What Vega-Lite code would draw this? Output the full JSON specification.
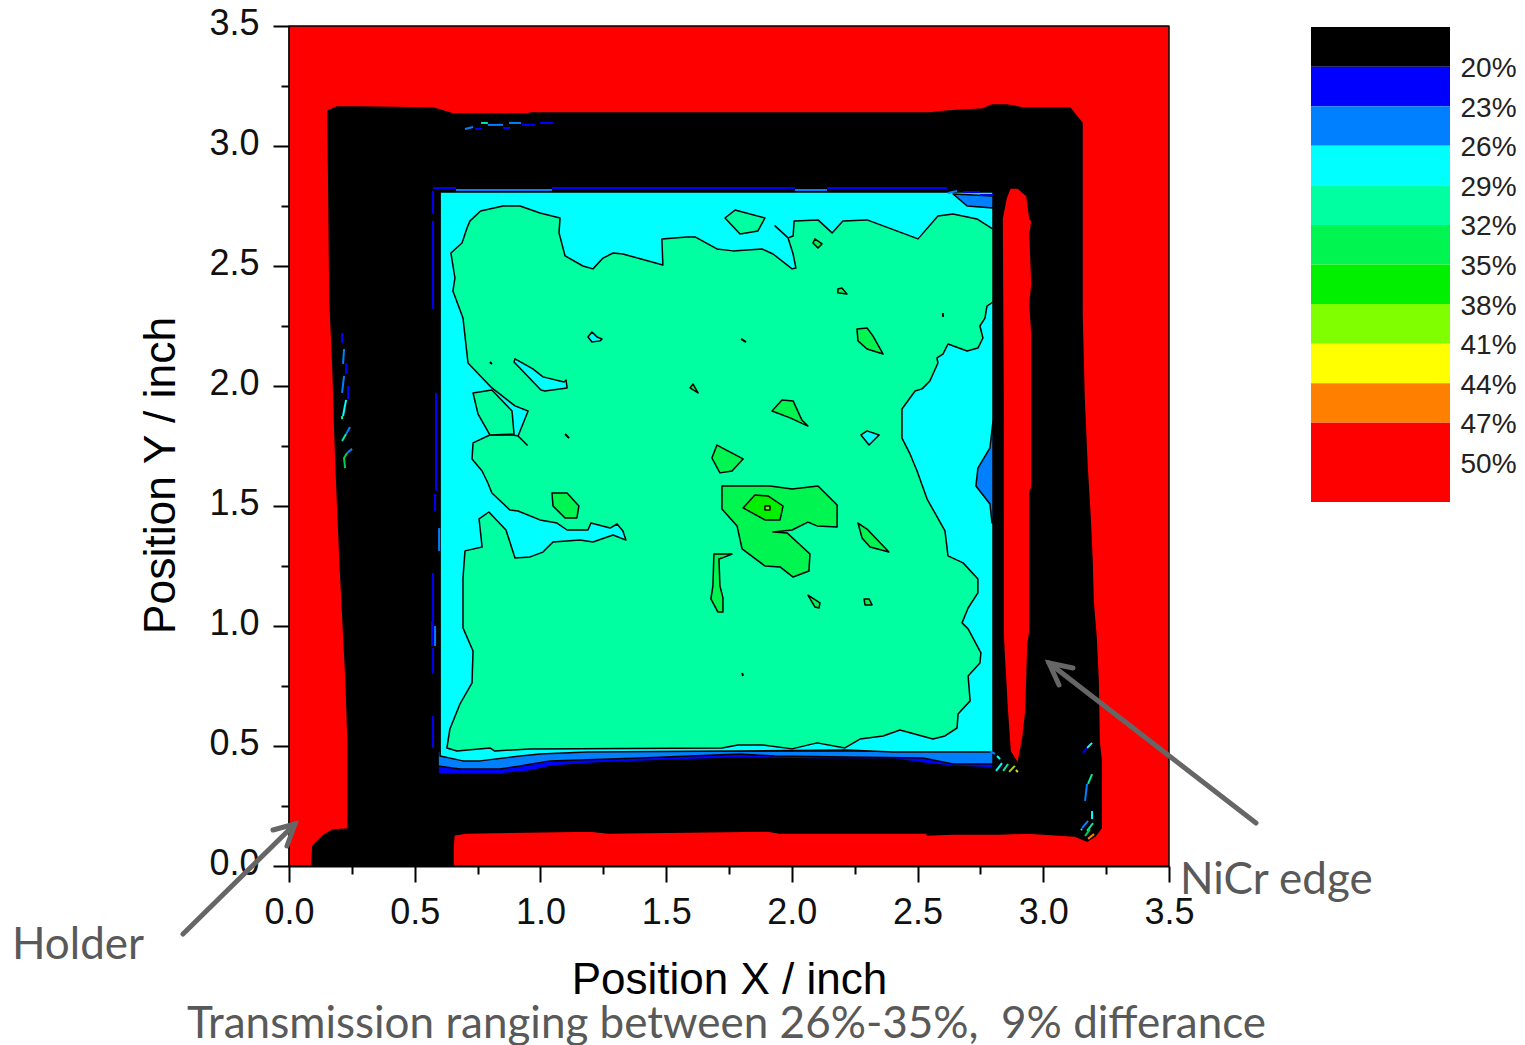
{"$schema":"https://vega.github.io/schema/vega-lite/v6.json","padding":{"left":11,"top":5,"right":0,"bottom":0},"bounds":"flush","spacing":142,"config":{"view":{"stroke":null},"font":"Liberation Sans"},
"datasets":{
"polys":[
{"id":"bg","level":47,"x":0,"y":0},{"id":"bg","level":47,"x":3.5,"y":0},{"id":"bg","level":47,"x":3.5,"y":3.5},{"id":"bg","level":47,"x":0,"y":3.5},
{"id":"frame","level":17,"x":0.155,"y":3.146},{"id":"frame","level":17,"x":0.191,"y":3.163},{"id":"frame","level":17,"x":0.274,"y":3.163},{"id":"frame","level":17,"x":0.573,"y":3.158},{"id":"frame","level":17,"x":0.652,"y":3.133},{"id":"frame","level":17,"x":0.951,"y":3.133},{"id":"frame","level":17,"x":0.959,"y":3.138},{"id":"frame","level":17,"x":2.549,"y":3.138},{"id":"frame","level":17,"x":2.621,"y":3.146},{"id":"frame","level":17,"x":2.76,"y":3.154},{"id":"frame","level":17,"x":2.796,"y":3.171},{"id":"frame","level":17,"x":2.856,"y":3.171},{"id":"frame","level":17,"x":2.919,"y":3.158},{"id":"frame","level":17,"x":3.106,"y":3.158},{"id":"frame","level":17,"x":3.154,"y":3.096},{"id":"frame","level":17,"x":3.154,"y":2.296},{"id":"frame","level":17,"x":3.162,"y":1.954},{"id":"frame","level":17,"x":3.174,"y":1.663},{"id":"frame","level":17,"x":3.186,"y":1.454},{"id":"frame","level":17,"x":3.194,"y":1.267},{"id":"frame","level":17,"x":3.198,"y":1.104},{"id":"frame","level":17,"x":3.21,"y":0.95},{"id":"frame","level":17,"x":3.218,"y":0.771},{"id":"frame","level":17,"x":3.222,"y":0.517},{"id":"frame","level":17,"x":3.23,"y":0.442},{"id":"frame","level":17,"x":3.23,"y":0.158},{"id":"frame","level":17,"x":3.206,"y":0.125},{"id":"frame","level":17,"x":3.174,"y":0.104},{"id":"frame","level":17,"x":3.126,"y":0.125},{"id":"frame","level":17,"x":2.999,"y":0.133},{"id":"frame","level":17,"x":2.939,"y":0.138},{"id":"frame","level":17,"x":2.828,"y":0.133},{"id":"frame","level":17,"x":2.637,"y":0.133},{"id":"frame","level":17,"x":2.538,"y":0.129},{"id":"frame","level":17,"x":2.538,"y":0.138},{"id":"frame","level":17,"x":1.945,"y":0.138},{"id":"frame","level":17,"x":1.905,"y":0.146},{"id":"frame","level":17,"x":1.269,"y":0.138},{"id":"frame","level":17,"x":1.197,"y":0.146},{"id":"frame","level":17,"x":0.708,"y":0.138},{"id":"frame","level":17,"x":0.656,"y":0.129},{"id":"frame","level":17,"x":0.652,"y":0.071},{"id":"frame","level":17,"x":0.652,"y":0},{"id":"frame","level":17,"x":0.091,"y":0},{"id":"frame","level":17,"x":0.095,"y":0.083},{"id":"frame","level":17,"x":0.135,"y":0.125},{"id":"frame","level":17,"x":0.175,"y":0.15},{"id":"frame","level":17,"x":0.235,"y":0.154},{"id":"frame","level":17,"x":0.235,"y":0.521},{"id":"frame","level":17,"x":0.227,"y":0.771},{"id":"frame","level":17,"x":0.215,"y":1.021},{"id":"frame","level":17,"x":0.203,"y":1.271},{"id":"frame","level":17,"x":0.191,"y":1.571},{"id":"frame","level":17,"x":0.183,"y":1.792},{"id":"frame","level":17,"x":0.175,"y":2.075},{"id":"frame","level":17,"x":0.163,"y":2.354},{"id":"frame","level":17,"x":0.159,"y":2.771},
{"id":"blue","level":20,"x":0.593,"y":0.479},{"id":"blue","level":20,"x":2.8,"y":0.479},{"id":"blue","level":20,"x":2.8,"y":0.408},{"id":"blue","level":20,"x":2.629,"y":0.417},{"id":"blue","level":20,"x":2.549,"y":0.425},{"id":"blue","level":20,"x":2.402,"y":0.446},{"id":"blue","level":20,"x":2.072,"y":0.446},{"id":"blue","level":20,"x":1.794,"y":0.45},{"id":"blue","level":20,"x":1.555,"y":0.442},{"id":"blue","level":20,"x":1.225,"y":0.429},{"id":"blue","level":20,"x":1.05,"y":0.417},{"id":"blue","level":20,"x":0.959,"y":0.396},{"id":"blue","level":20,"x":0.839,"y":0.383},{"id":"blue","level":20,"x":0.593,"y":0.383},
{"id":"azure","level":23,"x":0.593,"y":0.479},{"id":"azure","level":23,"x":2.8,"y":0.479},{"id":"azure","level":23,"x":2.8,"y":0.425},{"id":"azure","level":23,"x":2.641,"y":0.425},{"id":"azure","level":23,"x":2.522,"y":0.45},{"id":"azure","level":23,"x":1.933,"y":0.458},{"id":"azure","level":23,"x":1.794,"y":0.467},{"id":"azure","level":23,"x":1.396,"y":0.45},{"id":"azure","level":23,"x":1.038,"y":0.438},{"id":"azure","level":23,"x":0.919,"y":0.417},{"id":"azure","level":23,"x":0.839,"y":0.404},{"id":"azure","level":23,"x":0.68,"y":0.404},{"id":"azure","level":23,"x":0.593,"y":0.417},
{"id":"cyan","level":26,"x":0.601,"y":2.808},{"id":"cyan","level":26,"x":2.8,"y":2.808},{"id":"cyan","level":26,"x":2.8,"y":0.475},{"id":"cyan","level":26,"x":2.402,"y":0.475},{"id":"cyan","level":26,"x":2.219,"y":0.483},{"id":"cyan","level":26,"x":1.794,"y":0.479},{"id":"cyan","level":26,"x":1.185,"y":0.475},{"id":"cyan","level":26,"x":0.998,"y":0.467},{"id":"cyan","level":26,"x":0.919,"y":0.458},{"id":"cyan","level":26,"x":0.76,"y":0.438},{"id":"cyan","level":26,"x":0.692,"y":0.438},{"id":"cyan","level":26,"x":0.601,"y":0.458},
{"id":"az2","level":23,"x":2.641,"y":2.8},{"id":"az2","level":23,"x":2.8,"y":2.792},{"id":"az2","level":23,"x":2.8,"y":2.742},{"id":"az2","level":23,"x":2.697,"y":2.75},
{"id":"az3","level":23,"x":2.8,"y":1.854},{"id":"az3","level":23,"x":2.788,"y":1.742},{"id":"az3","level":23,"x":2.74,"y":1.658},{"id":"az3","level":23,"x":2.732,"y":1.583},{"id":"az3","level":23,"x":2.788,"y":1.508},{"id":"az3","level":23,"x":2.796,"y":1.429},{"id":"az3","level":23,"x":2.8,"y":1.429},
{"id":"main","level":29,"x":0.762,"y":2.729},{"id":"main","level":29,"x":0.851,"y":2.75},{"id":"main","level":29,"x":0.919,"y":2.75},{"id":"main","level":29,"x":0.998,"y":2.721},{"id":"main","level":29,"x":1.078,"y":2.7},{"id":"main","level":29,"x":1.074,"y":2.638},{"id":"main","level":29,"x":1.098,"y":2.542},{"id":"main","level":29,"x":1.169,"y":2.5},{"id":"main","level":29,"x":1.209,"y":2.488},{"id":"main","level":29,"x":1.249,"y":2.533},{"id":"main","level":29,"x":1.289,"y":2.554},{"id":"main","level":29,"x":1.328,"y":2.55},{"id":"main","level":29,"x":1.487,"y":2.504},{"id":"main","level":29,"x":1.483,"y":2.613},{"id":"main","level":29,"x":1.583,"y":2.621},{"id":"main","level":29,"x":1.615,"y":2.621},{"id":"main","level":29,"x":1.702,"y":2.571},{"id":"main","level":29,"x":1.766,"y":2.563},{"id":"main","level":29,"x":1.881,"y":2.571},{"id":"main","level":29,"x":1.925,"y":2.55},{"id":"main","level":29,"x":2.001,"y":2.488},{"id":"main","level":29,"x":2.016,"y":2.492},{"id":"main","level":29,"x":2.005,"y":2.55},{"id":"main","level":29,"x":1.985,"y":2.617},{"id":"main","level":29,"x":1.933,"y":2.667},{"id":"main","level":29,"x":1.985,"y":2.617},{"id":"main","level":29,"x":2.005,"y":2.625},{"id":"main","level":29,"x":2.009,"y":2.688},{"id":"main","level":29,"x":2.104,"y":2.692},{"id":"main","level":29,"x":2.16,"y":2.638},{"id":"main","level":29,"x":2.203,"y":2.688},{"id":"main","level":29,"x":2.299,"y":2.692},{"id":"main","level":29,"x":2.502,"y":2.613},{"id":"main","level":29,"x":2.581,"y":2.708},{"id":"main","level":29,"x":2.641,"y":2.717},{"id":"main","level":29,"x":2.736,"y":2.696},{"id":"main","level":29,"x":2.8,"y":2.654},{"id":"main","level":29,"x":2.8,"y":2.35},{"id":"main","level":29,"x":2.776,"y":2.333},{"id":"main","level":29,"x":2.768,"y":2.283},{"id":"main","level":29,"x":2.748,"y":2.25},{"id":"main","level":29,"x":2.76,"y":2.2},{"id":"main","level":29,"x":2.74,"y":2.158},{"id":"main","level":29,"x":2.697,"y":2.146},{"id":"main","level":29,"x":2.621,"y":2.175},{"id":"main","level":29,"x":2.601,"y":2.133},{"id":"main","level":29,"x":2.577,"y":2.117},{"id":"main","level":29,"x":2.581,"y":2.096},{"id":"main","level":29,"x":2.549,"y":2.021},{"id":"main","level":29,"x":2.518,"y":1.988},{"id":"main","level":29,"x":2.49,"y":1.979},{"id":"main","level":29,"x":2.438,"y":1.904},{"id":"main","level":29,"x":2.438,"y":1.783},{"id":"main","level":29,"x":2.47,"y":1.717},{"id":"main","level":29,"x":2.498,"y":1.646},{"id":"main","level":29,"x":2.538,"y":1.529},{"id":"main","level":29,"x":2.609,"y":1.396},{"id":"main","level":29,"x":2.621,"y":1.292},{"id":"main","level":29,"x":2.681,"y":1.263},{"id":"main","level":29,"x":2.74,"y":1.196},{"id":"main","level":29,"x":2.74,"y":1.138},{"id":"main","level":29,"x":2.701,"y":1.075},{"id":"main","level":29,"x":2.677,"y":1.013},{"id":"main","level":29,"x":2.701,"y":0.988},{"id":"main","level":29,"x":2.752,"y":0.888},{"id":"main","level":29,"x":2.748,"y":0.846},{"id":"main","level":29,"x":2.701,"y":0.792},{"id":"main","level":29,"x":2.709,"y":0.688},{"id":"main","level":29,"x":2.661,"y":0.633},{"id":"main","level":29,"x":2.657,"y":0.575},{"id":"main","level":29,"x":2.609,"y":0.542},{"id":"main","level":29,"x":2.561,"y":0.529},{"id":"main","level":29,"x":2.43,"y":0.567},{"id":"main","level":29,"x":2.363,"y":0.542},{"id":"main","level":29,"x":2.271,"y":0.529},{"id":"main","level":29,"x":2.211,"y":0.492},{"id":"main","level":29,"x":2.1,"y":0.513},{"id":"main","level":29,"x":2.001,"y":0.488},{"id":"main","level":29,"x":1.885,"y":0.504},{"id":"main","level":29,"x":1.786,"y":0.504},{"id":"main","level":29,"x":1.722,"y":0.492},{"id":"main","level":29,"x":0.959,"y":0.488},{"id":"main","level":29,"x":0.819,"y":0.479},{"id":"main","level":29,"x":0.799,"y":0.492},{"id":"main","level":29,"x":0.668,"y":0.479},{"id":"main","level":29,"x":0.628,"y":0.492},{"id":"main","level":29,"x":0.64,"y":0.571},{"id":"main","level":29,"x":0.68,"y":0.675},{"id":"main","level":29,"x":0.728,"y":0.763},{"id":"main","level":29,"x":0.732,"y":0.896},{"id":"main","level":29,"x":0.692,"y":0.992},{"id":"main","level":29,"x":0.692,"y":1.2},{"id":"main","level":29,"x":0.7,"y":1.313},{"id":"main","level":29,"x":0.768,"y":1.329},{"id":"main","level":29,"x":0.756,"y":1.446},{"id":"main","level":29,"x":0.795,"y":1.475},{"id":"main","level":29,"x":0.863,"y":1.4},{"id":"main","level":29,"x":0.899,"y":1.283},{"id":"main","level":29,"x":0.959,"y":1.288},{"id":"main","level":29,"x":1.01,"y":1.308},{"id":"main","level":29,"x":1.05,"y":1.35},{"id":"main","level":29,"x":1.157,"y":1.358},{"id":"main","level":29,"x":1.209,"y":1.35},{"id":"main","level":29,"x":1.289,"y":1.379},{"id":"main","level":29,"x":1.34,"y":1.358},{"id":"main","level":29,"x":1.328,"y":1.396},{"id":"main","level":29,"x":1.305,"y":1.425},{"id":"main","level":29,"x":1.277,"y":1.408},{"id":"main","level":29,"x":1.201,"y":1.429},{"id":"main","level":29,"x":1.189,"y":1.4},{"id":"main","level":29,"x":1.106,"y":1.4},{"id":"main","level":29,"x":1.066,"y":1.429},{"id":"main","level":29,"x":0.998,"y":1.442},{"id":"main","level":29,"x":0.911,"y":1.479},{"id":"main","level":29,"x":0.879,"y":1.483},{"id":"main","level":29,"x":0.807,"y":1.554},{"id":"main","level":29,"x":0.791,"y":1.596},{"id":"main","level":29,"x":0.768,"y":1.646},{"id":"main","level":29,"x":0.728,"y":1.696},{"id":"main","level":29,"x":0.732,"y":1.763},{"id":"main","level":29,"x":0.799,"y":1.796},{"id":"main","level":29,"x":0.891,"y":1.796},{"id":"main","level":29,"x":0.911,"y":1.792},{"id":"main","level":29,"x":0.947,"y":1.754},{"id":"main","level":29,"x":0.911,"y":1.792},{"id":"main","level":29,"x":0.951,"y":1.896},{"id":"main","level":29,"x":0.899,"y":1.917},{"id":"main","level":29,"x":0.807,"y":1.992},{"id":"main","level":29,"x":0.712,"y":2.096},{"id":"main","level":29,"x":0.692,"y":2.283},{"id":"main","level":29,"x":0.652,"y":2.396},{"id":"main","level":29,"x":0.66,"y":2.45},{"id":"main","level":29,"x":0.644,"y":2.554},{"id":"main","level":29,"x":0.688,"y":2.596},{"id":"main","level":29,"x":0.708,"y":2.658},{"id":"main","level":29,"x":0.72,"y":2.688},
{"id":"mintA","level":29,"x":0.732,"y":1.971},{"id":"mintA","level":29,"x":0.807,"y":1.983},{"id":"mintA","level":29,"x":0.887,"y":1.896},{"id":"mintA","level":29,"x":0.895,"y":1.8},{"id":"mintA","level":29,"x":0.799,"y":1.796},{"id":"mintA","level":29,"x":0.752,"y":1.883},
{"id":"mintB","level":29,"x":1.734,"y":2.7},{"id":"mintB","level":29,"x":1.774,"y":2.733},{"id":"mintB","level":29,"x":1.893,"y":2.7},{"id":"mintB","level":29,"x":1.865,"y":2.646},{"id":"mintB","level":29,"x":1.794,"y":2.633},
{"id":"c1","level":26,"x":0.899,"y":2.113},{"id":"c1","level":26,"x":0.97,"y":2.071},{"id":"c1","level":26,"x":1.01,"y":2.038},{"id":"c1","level":26,"x":1.094,"y":2.017},{"id":"c1","level":26,"x":1.102,"y":2.025},{"id":"c1","level":26,"x":1.106,"y":1.992},{"id":"c1","level":26,"x":1.018,"y":1.979},{"id":"c1","level":26,"x":1.002,"y":1.983},{"id":"c1","level":26,"x":0.895,"y":2.1},
{"id":"c2","level":26,"x":1.205,"y":2.225},{"id":"c2","level":26,"x":1.225,"y":2.204},{"id":"c2","level":26,"x":1.245,"y":2.196},{"id":"c2","level":26,"x":1.237,"y":2.188},{"id":"c2","level":26,"x":1.205,"y":2.183},{"id":"c2","level":26,"x":1.189,"y":2.204},
{"id":"c3","level":26,"x":2.275,"y":1.796},{"id":"c3","level":26,"x":2.299,"y":1.813},{"id":"c3","level":26,"x":2.347,"y":1.796},{"id":"c3","level":26,"x":2.307,"y":1.754},
{"id":"i1","level":32,"x":1.702,"y":1.754},{"id":"i1","level":32,"x":1.806,"y":1.696},{"id":"i1","level":32,"x":1.762,"y":1.646},{"id":"i1","level":32,"x":1.714,"y":1.638},{"id":"i1","level":32,"x":1.682,"y":1.7},
{"id":"i3","level":32,"x":2.092,"y":2.613},{"id":"i3","level":32,"x":2.12,"y":2.592},{"id":"i3","level":32,"x":2.104,"y":2.575},{"id":"i3","level":32,"x":2.084,"y":2.596},
{"id":"i4","level":32,"x":2.183,"y":2.404},{"id":"i4","level":32,"x":2.199,"y":2.408},{"id":"i4","level":32,"x":2.219,"y":2.383},{"id":"i4","level":32,"x":2.183,"y":2.388},
{"id":"i5","level":32,"x":2.259,"y":2.238},{"id":"i5","level":32,"x":2.299,"y":2.242},{"id":"i5","level":32,"x":2.323,"y":2.208},{"id":"i5","level":32,"x":2.363,"y":2.133},{"id":"i5","level":32,"x":2.299,"y":2.154},{"id":"i5","level":32,"x":2.263,"y":2.188},
{"id":"i6","level":32,"x":1.921,"y":1.896},{"id":"i6","level":32,"x":1.961,"y":1.942},{"id":"i6","level":32,"x":2.005,"y":1.938},{"id":"i6","level":32,"x":2.04,"y":1.858},{"id":"i6","level":32,"x":2.064,"y":1.833},{"id":"i6","level":32,"x":1.993,"y":1.867},
{"id":"i7","level":32,"x":1.595,"y":1.992},{"id":"i7","level":32,"x":1.607,"y":2.008},{"id":"i7","level":32,"x":1.627,"y":1.971},
{"id":"i8","level":32,"x":1.046,"y":1.554},{"id":"i8","level":32,"x":1.106,"y":1.554},{"id":"i8","level":32,"x":1.153,"y":1.5},{"id":"i8","level":32,"x":1.145,"y":1.45},{"id":"i8","level":32,"x":1.098,"y":1.45},{"id":"i8","level":32,"x":1.05,"y":1.5},
{"id":"i9","level":32,"x":1.722,"y":1.583},{"id":"i9","level":32,"x":1.913,"y":1.583},{"id":"i9","level":32,"x":2.001,"y":1.571},{"id":"i9","level":32,"x":2.104,"y":1.583},{"id":"i9","level":32,"x":2.18,"y":1.504},{"id":"i9","level":32,"x":2.18,"y":1.413},{"id":"i9","level":32,"x":2.1,"y":1.417},{"id":"i9","level":32,"x":2.064,"y":1.433},{"id":"i9","level":32,"x":2.001,"y":1.4},{"id":"i9","level":32,"x":1.925,"y":1.392},{"id":"i9","level":32,"x":1.981,"y":1.388},{"id":"i9","level":32,"x":2.072,"y":1.3},{"id":"i9","level":32,"x":2.068,"y":1.229},{"id":"i9","level":32,"x":2.005,"y":1.204},{"id":"i9","level":32,"x":1.953,"y":1.246},{"id":"i9","level":32,"x":1.893,"y":1.25},{"id":"i9","level":32,"x":1.802,"y":1.321},{"id":"i9","level":32,"x":1.782,"y":1.417},{"id":"i9","level":32,"x":1.722,"y":1.488},
{"id":"i10","level":35,"x":1.853,"y":1.546},{"id":"i10","level":35,"x":1.905,"y":1.542},{"id":"i10","level":35,"x":1.965,"y":1.5},{"id":"i10","level":35,"x":1.953,"y":1.442},{"id":"i10","level":35,"x":1.893,"y":1.442},{"id":"i10","level":35,"x":1.806,"y":1.492},
{"id":"i10b","level":38,"x":1.893,"y":1.5},{"id":"i10b","level":38,"x":1.913,"y":1.5},{"id":"i10b","level":38,"x":1.913,"y":1.483},{"id":"i10b","level":38,"x":1.893,"y":1.483},
{"id":"i11","level":32,"x":1.69,"y":1.3},{"id":"i11","level":32,"x":1.762,"y":1.3},{"id":"i11","level":32,"x":1.722,"y":1.283},{"id":"i11","level":32,"x":1.71,"y":1.279},{"id":"i11","level":32,"x":1.714,"y":1.167},{"id":"i11","level":32,"x":1.726,"y":1.117},{"id":"i11","level":32,"x":1.726,"y":1.058},{"id":"i11","level":32,"x":1.706,"y":1.058},{"id":"i11","level":32,"x":1.678,"y":1.113},{"id":"i11","level":32,"x":1.686,"y":1.167},
{"id":"i12","level":32,"x":2.263,"y":1.429},{"id":"i12","level":32,"x":2.299,"y":1.404},{"id":"i12","level":32,"x":2.386,"y":1.308},{"id":"i12","level":32,"x":2.311,"y":1.329},{"id":"i12","level":32,"x":2.279,"y":1.367},
{"id":"i13","level":32,"x":2.064,"y":1.129},{"id":"i13","level":32,"x":2.112,"y":1.096},{"id":"i13","level":32,"x":2.108,"y":1.075},{"id":"i13","level":32,"x":2.092,"y":1.079},
{"id":"i14","level":32,"x":2.287,"y":1.113},{"id":"i14","level":32,"x":2.307,"y":1.113},{"id":"i14","level":32,"x":2.319,"y":1.088},{"id":"i14","level":32,"x":2.291,"y":1.088},
{"id":"nicr","level":47,"x":2.868,"y":2.825},{"id":"nicr","level":47,"x":2.899,"y":2.825},{"id":"nicr","level":47,"x":2.935,"y":2.792},{"id":"nicr","level":47,"x":2.947,"y":2.696},{"id":"nicr","level":47,"x":2.955,"y":2.688},{"id":"nicr","level":47,"x":2.947,"y":2.633},{"id":"nicr","level":47,"x":2.955,"y":2.425},{"id":"nicr","level":47,"x":2.947,"y":2.342},{"id":"nicr","level":47,"x":2.955,"y":2.217},{"id":"nicr","level":47,"x":2.955,"y":1.575},{"id":"nicr","level":47,"x":2.947,"y":1.563},{"id":"nicr","level":47,"x":2.947,"y":0.979},{"id":"nicr","level":47,"x":2.939,"y":0.925},{"id":"nicr","level":47,"x":2.931,"y":0.646},{"id":"nicr","level":47,"x":2.919,"y":0.533},{"id":"nicr","level":47,"x":2.899,"y":0.425},{"id":"nicr","level":47,"x":2.868,"y":0.479},{"id":"nicr","level":47,"x":2.856,"y":0.658},{"id":"nicr","level":47,"x":2.84,"y":0.967},{"id":"nicr","level":47,"x":2.84,"y":1.938},{"id":"nicr","level":47,"x":2.836,"y":2.696},{"id":"nicr","level":47,"x":2.852,"y":2.783}
],
"dashes":[
{"id":"d1","level":20,"x":0.573,"y":2.825},{"id":"d1","level":20,"x":0.664,"y":2.825},
{"id":"d2","level":23,"x":0.664,"y":2.817},{"id":"d2","level":23,"x":1.046,"y":2.817},
{"id":"d3","level":20,"x":1.046,"y":2.825},{"id":"d3","level":20,"x":2.012,"y":2.825},
{"id":"d4","level":23,"x":2.012,"y":2.817},{"id":"d4","level":23,"x":2.14,"y":2.817},
{"id":"d5","level":20,"x":2.14,"y":2.825},{"id":"d5","level":20,"x":2.617,"y":2.825},
{"id":"d6","level":23,"x":2.621,"y":2.804},{"id":"d6","level":23,"x":2.657,"y":2.813},
{"id":"d7","level":20,"x":2.681,"y":2.808},{"id":"d7","level":20,"x":2.748,"y":2.808},
{"id":"d8","level":20,"x":2.748,"y":2.796},{"id":"d8","level":20,"x":2.8,"y":2.796},
{"id":"d9","level":20,"x":0.573,"y":2.813},{"id":"d9","level":20,"x":0.573,"y":2.717},
{"id":"d10","level":20,"x":0.573,"y":2.688},{"id":"d10","level":20,"x":0.573,"y":2.321},
{"id":"d11","level":20,"x":0.585,"y":1.971},{"id":"d11","level":20,"x":0.585,"y":1.563},
{"id":"d12","level":20,"x":0.581,"y":1.55},{"id":"d12","level":20,"x":0.581,"y":1.479},
{"id":"d13","level":23,"x":0.597,"y":1.408},{"id":"d13","level":23,"x":0.597,"y":1.313},
{"id":"d14","level":20,"x":0.573,"y":1.221},{"id":"d14","level":20,"x":0.573,"y":1.021},
{"id":"d15","level":20,"x":0.569,"y":1.021},{"id":"d15","level":20,"x":0.569,"y":0.917},
{"id":"d16","level":23,"x":0.581,"y":1.0},{"id":"d16","level":23,"x":0.581,"y":0.917},
{"id":"d17","level":20,"x":0.573,"y":0.908},{"id":"d17","level":20,"x":0.573,"y":0.804},
{"id":"d18","level":20,"x":0.573,"y":0.625},{"id":"d18","level":20,"x":0.573,"y":0.492},
{"id":"t1","level":23,"x":0.7,"y":3.071},{"id":"t1","level":23,"x":0.732,"y":3.079},
{"id":"t2","level":20,"x":0.74,"y":3.071},{"id":"t2","level":20,"x":0.768,"y":3.071},
{"id":"t3","level":29,"x":0.764,"y":3.096},{"id":"t3","level":29,"x":0.791,"y":3.096},
{"id":"t4","level":23,"x":0.791,"y":3.088},{"id":"t4","level":23,"x":0.851,"y":3.088},
{"id":"t5","level":20,"x":0.851,"y":3.075},{"id":"t5","level":20,"x":0.879,"y":3.075},
{"id":"t6","level":23,"x":0.875,"y":3.096},{"id":"t6","level":23,"x":0.923,"y":3.096},
{"id":"t7","level":20,"x":0.927,"y":3.088},{"id":"t7","level":20,"x":0.978,"y":3.088},
{"id":"t8","level":20,"x":0.998,"y":3.096},{"id":"t8","level":20,"x":1.05,"y":3.096},
{"id":"l1","level":20,"x":0.211,"y":2.221},{"id":"l1","level":20,"x":0.211,"y":2.179},
{"id":"l2","level":23,"x":0.219,"y":2.154},{"id":"l2","level":23,"x":0.215,"y":2.092},
{"id":"l3","level":20,"x":0.227,"y":2.096},{"id":"l3","level":20,"x":0.227,"y":2.05},
{"id":"l4","level":23,"x":0.219,"y":2.042},{"id":"l4","level":23,"x":0.211,"y":1.971},
{"id":"l5","level":20,"x":0.235,"y":2.0},{"id":"l5","level":20,"x":0.235,"y":1.946},
{"id":"l6","level":26,"x":0.227,"y":1.942},{"id":"l6","level":26,"x":0.215,"y":1.875},
{"id":"l7","level":29,"x":0.211,"y":1.875},{"id":"l7","level":29,"x":0.211,"y":1.862},
{"id":"l8","level":23,"x":0.243,"y":1.829},{"id":"l8","level":23,"x":0.227,"y":1.8},
{"id":"l9","level":29,"x":0.227,"y":1.8},{"id":"l9","level":29,"x":0.211,"y":1.771},
{"id":"l10","level":23,"x":0.251,"y":1.738},{"id":"l10","level":23,"x":0.231,"y":1.721},
{"id":"l11","level":32,"x":0.231,"y":1.721},{"id":"l11","level":32,"x":0.219,"y":1.7},{"id":"l11","level":32,"x":0.223,"y":1.658},
{"id":"r1","level":26,"x":3.194,"y":0.513},{"id":"r1","level":26,"x":3.174,"y":0.492},
{"id":"r2","level":20,"x":3.174,"y":0.492},{"id":"r2","level":20,"x":3.158,"y":0.471},
{"id":"r3","level":29,"x":3.194,"y":0.383},{"id":"r3","level":29,"x":3.178,"y":0.342},
{"id":"r4","level":23,"x":3.174,"y":0.342},{"id":"r4","level":23,"x":3.166,"y":0.271},
{"id":"r5","level":26,"x":3.194,"y":0.229},{"id":"r5","level":26,"x":3.194,"y":0.196},
{"id":"r6","level":23,"x":3.178,"y":0.188},{"id":"r6","level":23,"x":3.154,"y":0.158},
{"id":"r7","level":26,"x":3.154,"y":0.154},{"id":"r7","level":26,"x":3.15,"y":0.15},
{"id":"r8","level":29,"x":3.198,"y":0.179},{"id":"r8","level":29,"x":3.174,"y":0.146},
{"id":"r9","level":32,"x":3.186,"y":0.154},{"id":"r9","level":32,"x":3.166,"y":0.125},
{"id":"r10","level":44,"x":3.202,"y":0.133},{"id":"r10","level":44,"x":3.178,"y":0.113},
{"id":"k1","level":23,"x":2.788,"y":0.479},{"id":"k1","level":23,"x":2.808,"y":0.467},
{"id":"k2","level":26,"x":2.816,"y":0.458},{"id":"k2","level":26,"x":2.828,"y":0.446},
{"id":"k3","level":26,"x":2.812,"y":0.396},{"id":"k3","level":26,"x":2.836,"y":0.429},
{"id":"k4","level":29,"x":2.84,"y":0.396},{"id":"k4","level":29,"x":2.86,"y":0.425},
{"id":"k5","level":35,"x":2.864,"y":0.392},{"id":"k5","level":35,"x":2.887,"y":0.417},
{"id":"k6","level":41,"x":2.891,"y":0.4},{"id":"k6","level":41,"x":2.899,"y":0.392},
{"id":"b1","level":17,"x":0.799,"y":2.1},{"id":"b1","level":17,"x":0.807,"y":2.092},
{"id":"b2","level":17,"x":1.098,"y":1.8},{"id":"b2","level":17,"x":1.114,"y":1.783},
{"id":"b3","level":17,"x":1.798,"y":2.196},{"id":"b3","level":17,"x":1.818,"y":2.183},
{"id":"b4","level":17,"x":2.601,"y":2.304},{"id":"b4","level":17,"x":2.601,"y":2.288},
{"id":"b5","level":17,"x":1.802,"y":0.804},{"id":"b5","level":17,"x":1.806,"y":0.792}
],
"arrows":[
{"id":"h","x":-0.4216,"y":-0.2833},{"id":"h","x":0.0239,"y":0.175},
{"id":"hb","x":-0.0636,"y":0.15},{"id":"hb","x":0.0239,"y":0.175},{"id":"hb","x":-0.008,"y":0.0833},
{"id":"n","x":3.846,"y":0.1792},{"id":"n","x":3.0227,"y":0.8458},
{"id":"nb","x":3.1182,"y":0.825},{"id":"nb","x":3.0227,"y":0.8458},{"id":"nb","x":3.0625,"y":0.7542}
],
"notes":[
{"label":"Holder","x":-1.102,"y":-0.333},
{"label":"NiCr edge","x":3.544,"y":-0.062},
{"label":"Transmission ranging between 26%-35%, \u00a09% differance","x":-0.406,"y":-0.662}
],
"bands":[
{"level":17,"lo":17,"hi":20},{"level":20,"lo":20,"hi":23},{"level":23,"lo":23,"hi":26},{"level":26,"lo":26,"hi":29},{"level":29,"lo":29,"hi":32},{"level":32,"lo":32,"hi":35},{"level":35,"lo":35,"hi":38},{"level":38,"lo":38,"hi":41},{"level":41,"lo":41,"hi":44},{"level":44,"lo":44,"hi":47},{"level":47,"lo":47,"hi":53}
]},
"hconcat":[
{"width":880,"height":840,
"encoding":{
"x":{"field":"x","type":"quantitative","scale":{"domain":[0,3.5],"nice":false,"zero":false},
"axis":{"title":"Position X / inch","values":[0,0.25,0.5,0.75,1,1.25,1.5,1.75,2,2.25,2.5,2.75,3,3.25,3.5],"labelExpr":"datum.value*2%1==0?format(datum.value,'.1f'):''","labelFontSize":36,"labelColor":"#111","labelFlush":false,"labelOverlap":false,"labelPadding":13,"tickColor":"#000","tickWidth":2,"tickSize":{"condition":{"test":"datum.value*2%1==0","value":16},"value":8},"domainColor":"#000","domainWidth":2,"grid":false,"titleFontSize":44,"titleFontWeight":"normal","titleColor":"#000","titleY":114,"titleBaseline":"middle"}},
"y":{"field":"y","type":"quantitative","scale":{"domain":[0,3.5],"nice":false,"zero":false},
"axis":{"title":"Position Y / inch","values":[0,0.25,0.5,0.75,1,1.25,1.5,1.75,2,2.25,2.5,2.75,3,3.25,3.5],"labelExpr":"datum.value*2%1==0?format(datum.value,'.1f'):''","labelFontSize":36,"labelColor":"#111","labelFlush":false,"labelOverlap":false,"labelPadding":14,"labelOffset":-3,"tickColor":"#000","tickWidth":2,"tickSize":{"condition":{"test":"datum.value*2%1==0","value":16},"value":8},"domainColor":"#000","domainWidth":2,"grid":false,"titleFontSize":44.5,"titleFontWeight":"normal","titleColor":"#000","titleX":-128,"titleY":449,"titleBaseline":"middle"}}
},
"layer":[
{"data":{"name":"polys"},"transform":[{"window":[{"op":"row_number","as":"seq"}]}],"mark":{"type":"line","interpolate":"linear-closed","stroke":"#000","strokeWidth":1.5,"strokeJoin":"round"},
"encoding":{"detail":{"field":"id"},"order":{"field":"seq","type":"quantitative"},"fill":{"field":"level","type":"ordinal","legend":null,"scale":{"domain":[17,20,23,26,29,32,35,38,41,44,47],"range":["#000000","#0000ff","#0080ff","#00ffff","#00ffa0","#00f550","#00f000","#80ff00","#ffff00","#ff8000","#ff0000"]}}}},
{"data":{"name":"dashes"},"transform":[{"window":[{"op":"row_number","as":"seq"}]}],"mark":{"type":"line","strokeWidth":2},
"encoding":{"detail":{"field":"id"},"order":{"field":"seq","type":"quantitative"},"stroke":{"field":"level","type":"ordinal","legend":null,"scale":{"domain":[17,20,23,26,29,32,35,38,41,44],"range":["#000000","#0000ff","#0080ff","#00ffff","#00e8a0","#00d050","#a0e000","#80ff00","#e8e000","#ff8000"]}}}},
{"data":{"name":"arrows"},"transform":[{"window":[{"op":"row_number","as":"seq"}]}],"mark":{"type":"line","stroke":"#666666","strokeWidth":5,"strokeCap":"round","strokeJoin":"miter"},
"encoding":{"detail":{"field":"id"},"order":{"field":"seq","type":"quantitative"}}},
{"data":{"name":"notes"},"mark":{"type":"text","align":"left","baseline":"middle","font":"Lato","fontSize":44,"color":"#595959"},
"encoding":{"text":{"field":"label"}}}
]},
{"width":139,"height":840,"data":{"name":"bands"},
"mark":{"type":"rect"},
"encoding":{
"y":{"field":"lo","type":"quantitative","scale":{"domain":[16.92,80.59],"reverse":true,"nice":false,"zero":false},
"axis":{"orient":"right","title":null,"values":[20,23,26,29,32,35,38,41,44,47,50],"labelExpr":"datum.value+'%'","labelFontSize":28,"labelColor":"#222","labelPadding":10,"labelOffset":2,"ticks":false,"domain":false,"grid":false,"labelOverlap":false,"labelFlush":false}},
"y2":{"field":"hi"},
"fill":{"field":"level","type":"ordinal","legend":null,"scale":{"domain":[17,20,23,26,29,32,35,38,41,44,47],"range":["#000000","#0000ff","#0080ff","#00ffff","#00ffa0","#00f550","#00f000","#80ff00","#ffff00","#ff8000","#ff0000"]}}
}}
],
"resolve":{"scale":{"fill":"independent"}}
}
